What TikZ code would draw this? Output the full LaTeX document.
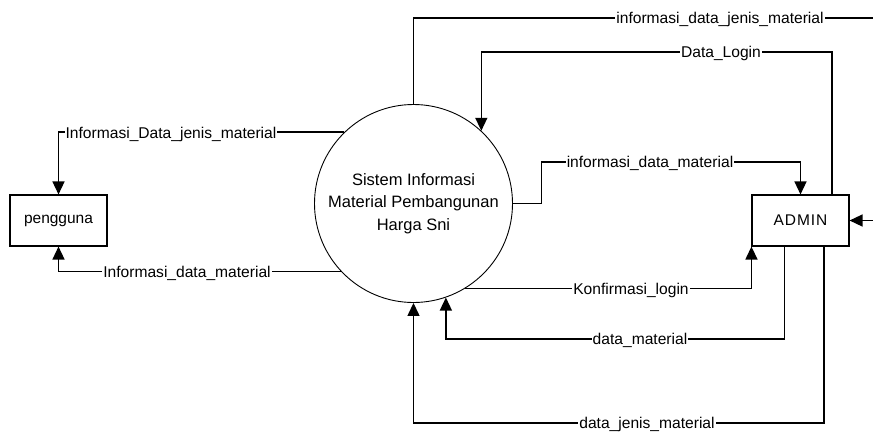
\documentclass[tikz,border=0pt]{standalone}
\usepackage{fontspec}
\setmainfont{Liberation Sans}
\usetikzlibrary{arrows.meta}
\begin{document}
\begin{tikzpicture}[x=1pt,y=-1pt,
 conn/.style={line width=1.4pt},
 arr/.style={conn,-{Triangle[length=13pt,width=12pt]}},
 lbl/.style={fill=white,inner sep=1pt,font=\fontsize{15.6}{18}\selectfont,anchor=base,yshift=-5.5pt},
 ent/.style={draw,line width=1.1pt,minimum width=97pt,minimum height=51pt,font=\fontsize{15.5}{18}\selectfont,inner sep=0pt},
 proc/.style={draw,circle,line width=0.9pt,minimum size=198pt,inner sep=0pt,align=center,font=\fontsize{16.5}{22.5}\selectfont}]
\useasboundingbox (0,0) rectangle (873,432);
\clip (0,0) rectangle (873,432);
\fill[white] (0,0) rectangle (873,432);
\node[ent] (user) at (58.5,220.5) {pengguna};
\node[ent] (admin) at (800.5,220.5) {\addfontfeature{LetterSpace=6}ADMIN};
\node[proc] (sys) at (413.5,203.5) {Sistem Informasi\\Material Pembangunan\\Harga Sni};
\coordinate (offA) at (900,18);
\coordinate (offB) at (900,220.5);
% connectors
\draw[arr] (sys.north) |- (offA) -- (offB) -- (admin.east);
\draw[arr] ([xshift=31.5pt]admin.north) |- (sys.47.8 |- 0,52) -- (sys.47.8);
\draw[arr] (sys.134.6) -| (user.north);
\draw[arr] (sys.223.6) -| (user.south);
\draw[arr] (sys.east) -- (541.5,203.5) |- (admin.north |- 0,162) -- (admin.north);
\draw[arr] (sys.-59.7) -| (admin.south west);
\draw[arr] ([xshift=-16pt]admin.south) |- (sys.-71.4 |- 0,339) -- (sys.-71.4);
\draw[arr] ([xshift=23.5pt]admin.south) |- (sys.south |- 0,423) -- (sys.south);
% labels
\node[lbl] (l1) at (720,18) {informasi\_data\_jenis\_material};
\node[lbl] (l2) at (721,52) {Data\_Login};
\node[lbl] (l3) at (171,133) {Informasi\_Data\_jenis\_material};
\node[lbl] (l4) at (187,272) {Informasi\_data\_material};
\node[lbl] (l5) at (650,162) {informasi\_data\_material};
\node[lbl] (l6) at (631,289) {Konfirmasi\_login};
\node[lbl] (l7) at (640,339) {data\_material};
\node[lbl] (l8) at (647,423) {data\_jenis\_material};
\end{tikzpicture}
\end{document}
